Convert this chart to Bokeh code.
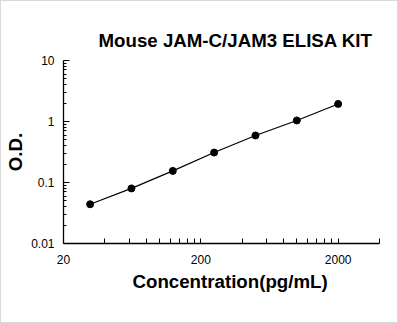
from bokeh.plotting import figure
from bokeh.models import FixedTicker, Range1d, Title
from bokeh.embed import file_html
from bokeh.resources import INLINE

# Standard curve: concentration (pg/mL) vs optical density
concentration = [31.25, 62.5, 125, 250, 500, 1000, 2000]
od = [0.044, 0.080, 0.155, 0.31, 0.59, 1.04, 1.94]

x_major = [20, 200, 2000]
x_minor = [40, 60, 80, 100, 120, 140, 160, 180,
           400, 600, 800, 1000, 1200, 1400, 1600, 1800, 4000]
y_major = [0.01, 0.1, 1, 10]
y_minor = [m * d for d in (0.01, 0.1, 1) for m in range(2, 10)]

FONT = "Liberation Sans"
BIG = "18.7px"

p = figure(
    width=398, height=323,
    x_axis_type="log", y_axis_type="log",
    x_range=Range1d(20, 4000), y_range=Range1d(0.01, 10),
    output_backend="svg", toolbar_location=None,
    min_border_left=62, min_border_right=20,
    min_border_top=59, min_border_bottom=81,
    title="Mouse JAM-C/JAM3 ELISA KIT",
)
p.styles = {"border": "1px solid #d9d9d9", "box-sizing": "border-box"}

p.title.text_font = FONT
p.title.text_font_size = BIG
p.title.text_font_style = "bold"
p.title.text_color = "black"
p.title.align = "left"
p.title.offset = 35
p.title.standoff = 19

p.outline_line_color = None
p.xgrid.visible = False
p.ygrid.visible = False
p.background_fill_color = "white"
p.border_fill_color = "white"

xa = p.xaxis[0]
xa.ticker = FixedTicker(ticks=x_major, minor_ticks=x_minor)
ya = p.yaxis[0]
ya.ticker = FixedTicker(ticks=y_major, minor_ticks=y_minor)
ya.axis_label = "O.D."
ya.major_label_overrides = {0.01: "0.01", 0.1: "0.1", 1: "1", 10: "10"}
xa.major_label_overrides = {20: "20", 200: "200", 2000: "2000"}

for ax in (xa, ya):
    ax.axis_line_color = "black"
    ax.axis_line_width = 1.3
    ax.major_tick_line_color = "black"
    ax.minor_tick_line_color = "black"
    ax.major_tick_out = 0
    ax.minor_tick_out = 0
    ax.major_label_text_font = FONT
    ax.major_label_text_font_size = "12px"
    ax.major_label_text_color = "black"
    ax.axis_label_text_font = FONT
    ax.axis_label_text_font_size = BIG
    ax.axis_label_text_font_style = "bold"
    ax.axis_label_text_color = "black"

xa.major_tick_in = 5
xa.minor_tick_in = 5
xa.major_label_standoff = 11
ya.major_tick_in = 6
ya.minor_tick_in = 3
ya.major_label_standoff = 9
ya.axis_label_standoff = 2

# x-axis caption, set a little right of the frame centre
p.add_layout(Title(text="Concentration(pg/mL)", align="left", offset=69,
                   text_font=FONT, text_font_size=BIG, text_font_style="bold",
                   text_color="black", standoff=4), "below")

p.line(concentration, od, line_color="black", line_width=1.2)
p.scatter(concentration, od, size=7, fill_color="black", line_color="black")

open("out.html", "w").write(file_html(p, INLINE))
